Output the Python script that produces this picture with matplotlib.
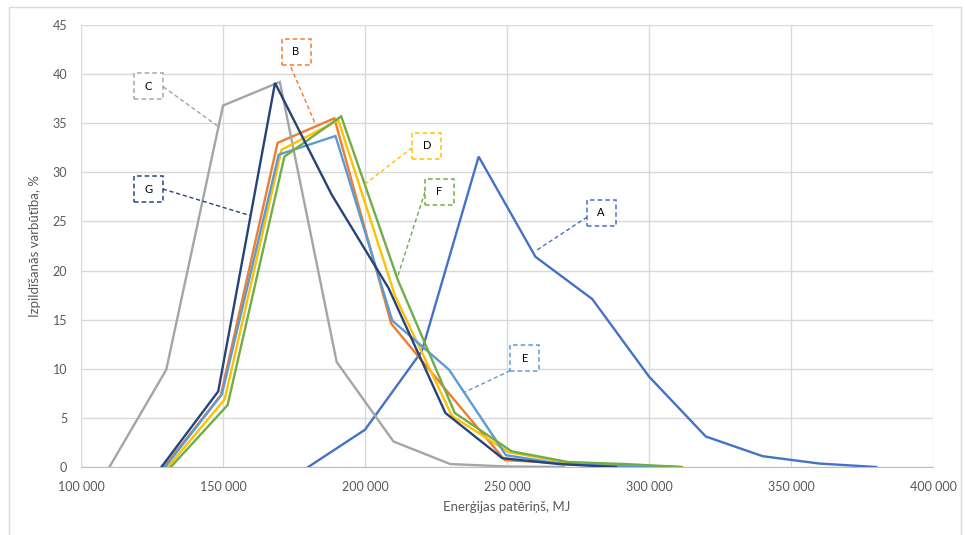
import matplotlib.pyplot as plt
from matplotlib.patches import Rectangle
from matplotlib.ticker import FuncFormatter

plt.rcParams['font.family'] = ['Lato', 'DejaVu Sans']

# series data (energy consumption, MJ -> probability, %)
a_x = [180000, 200000, 220000, 240000, 260000, 280000, 300000, 320000, 340000, 360000, 380000]
a_y = [0, 3.8, 11.8, 31.6, 21.4, 17.1, 9.2, 3.1, 1.1, 0.35, 0]

b_x = [129200, 149200, 169200, 189200, 209200, 229200, 249200, 269200, 289200]
b_y = [0, 7.3, 33.0, 35.5, 14.6, 7.6, 0.7, 0.4, 0.1]

c_x = [110000, 130000, 150000, 170000, 190000, 210000, 230000, 250000, 270000]
c_y = [0, 9.9, 36.8, 39.2, 10.7, 2.6, 0.3, 0.05, 0]

d_x = [130600, 150600, 170600, 190600, 210600, 230600, 250600, 270600, 290600, 310600]
d_y = [0, 6.9, 32.3, 35.3, 17.4, 5.2, 1.5, 0.5, 0.2, 0]

e_x = [129600, 149600, 169600, 189600, 209600, 229600, 249600, 269600, 289600, 309600]
e_y = [0, 7.4, 31.8, 33.7, 14.9, 9.9, 1.2, 0.3, 0.1, 0]

f_x = [131600, 151600, 171600, 191600, 211600, 231600, 251600, 271600, 291600, 311600]
f_y = [0, 6.3, 31.6, 35.7, 19.0, 5.5, 1.6, 0.5, 0.3, 0]

g_x = [128300, 148300, 168300, 188300, 208300, 228300, 248300, 268300, 288300]
g_y = [0, 7.7, 39.1, 27.7, 18.2, 5.5, 0.9, 0.3, 0]

names = ['A', 'B', 'C', 'D', 'E', 'F', 'G']
xs = [a_x, b_x, c_x, d_x, e_x, f_x, g_x]
ys = [a_y, b_y, c_y, d_y, e_y, f_y, g_y]
colors = ['#4472C4', '#ED7D31', '#A5A5A5', '#FFC000', '#5B9BD5', '#70AD47', '#264478']

# callout layout: box centre, leader end on the line, leader start at the box
callouts = {
    'A': ((283100, 25.9), (260600, 22.1), (278200, 25.45)),
    'B': ((175700, 42.25), (182400, 35.0), (173900, 40.7)),
    'C': ((123600, 38.76), (148600, 34.6), (129000, 38.7)),
    'D': ((221800, 32.7), (200000, 28.8), (216500, 32.5)),
    'E': ((256300, 11.05), (235200, 7.64), (251100, 9.8)),
    'F': ((226200, 28.0), (211600, 19.5), (221100, 28.0)),
    'G': ((123800, 28.3), (159500, 25.6), (128800, 28.3)),
}
box_w = 10200
box_h = 2.65

fig = plt.figure(figsize=(9.66, 5.35), dpi=100)
ax = fig.add_axes([0.0839, 0.1271, 0.882, 0.8262])

for x, y, c in zip(xs, ys, colors):
    ax.plot(x, y, color=c, lw=1.7, solid_joinstyle='miter', zorder=3)

for n, c in zip(names, colors):
    (bx, by), (tx, ty), (sx, sy) = callouts[n]
    ax.plot([sx, tx], [sy, ty], color=c, lw=1, ls=(0, (3, 2)), zorder=4)
    ax.add_patch(Rectangle((bx - box_w / 2, by - box_h / 2), box_w, box_h,
                           facecolor='white', edgecolor=c, lw=1.1,
                           ls=(0, (3, 2)), zorder=5))
    ax.text(bx, by, n, ha='center', va='center', fontsize=8, color='#000000', zorder=6)

ax.set_xlim(100000, 400000)
ax.set_ylim(0, 45)
ax.set_xticks(range(100000, 400001, 50000))
ax.set_yticks(range(0, 46, 5))
ax.xaxis.set_major_formatter(FuncFormatter(lambda v, p: f'{int(v):,}'.replace(',', ' ')))
ax.grid(True, color='#D9D9D9', lw=1)
ax.set_axisbelow(True)
for s in ['top', 'right', 'left']:
    ax.spines[s].set_visible(False)
ax.spines['bottom'].set_color('#BFBFBF')
ax.tick_params(length=0, labelsize=9, colors='#595959', pad=10)

ax.set_xlabel('Enerģijas patēriņš, MJ', fontsize=9.5, color='#595959', labelpad=6)
ax.set_ylabel('Izpildīšanās varbūtība, %', fontsize=9.5, color='#595959', labelpad=8)

fig.patches.append(Rectangle((9 / 966, -0.05), 952 / 966, 1 - 7 / 535 + 0.05,
                             transform=fig.transFigure, fill=False,
                             edgecolor='#D9D9D9', lw=1))

fig.savefig('out.png', dpi=100)
